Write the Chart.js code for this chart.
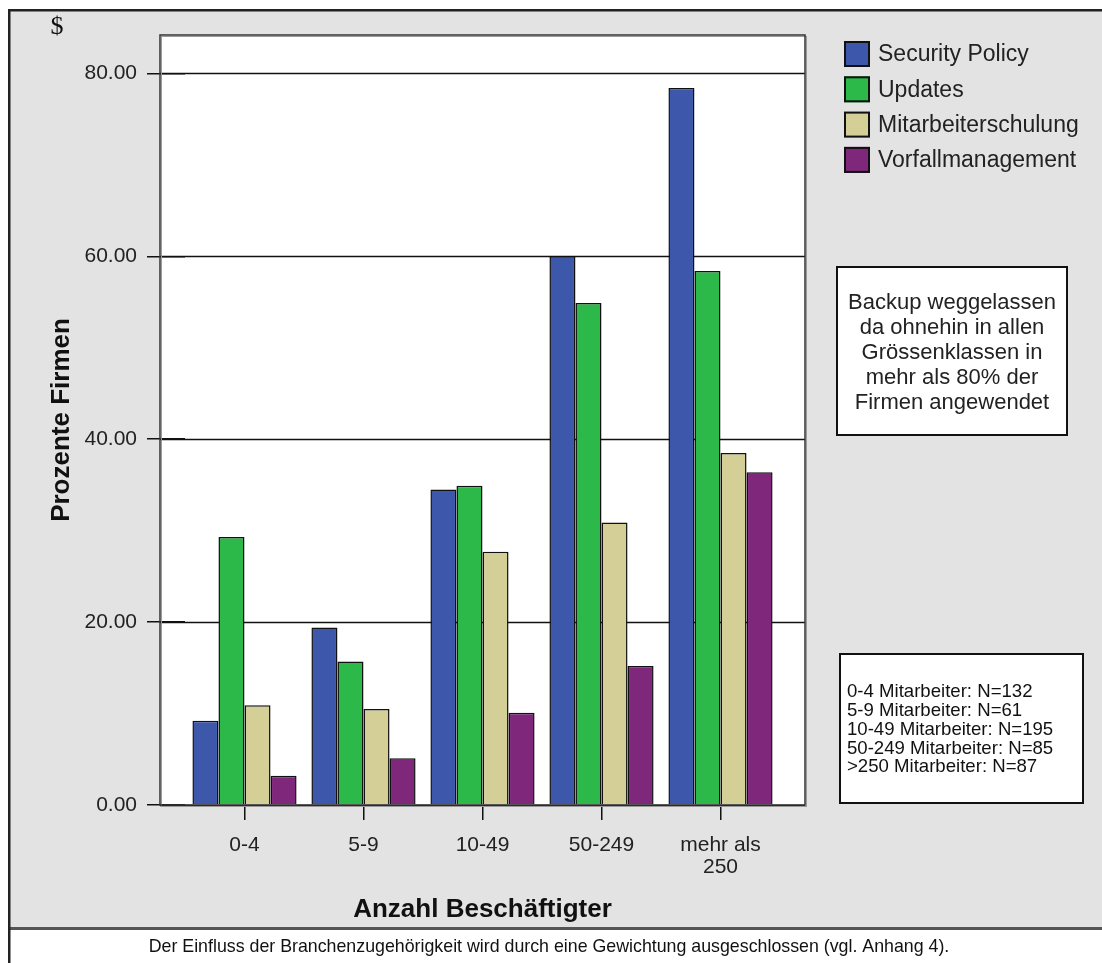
<!DOCTYPE html>
<html>
<head>
<meta charset="utf-8">
<script src="https://cdn.jsdelivr.net/npm/chart.js@4"></script>
<style>
  html, body { margin: 0; padding: 0; background: #fff; }
  #wrap { width: 1102px; height: 963px; position: relative; }
</style>
</head>
<body>
<div id="wrap"><canvas id="c" width="1102" height="963"></canvas></div>
<script>
// Size classes (number of employees)
const categories = ['0-4', '5-9', '10-49', '50-249', ['mehr als', '250']];

// Share of firms (%) per measure and size class
const securityPolicy      = [9.2, 19.4, 34.5, 60.0, 78.4];
const updates             = [29.3, 15.7, 34.9, 54.9, 58.4];
const mitarbeiterschulung = [10.9, 10.5, 27.7, 30.9, 38.5];
const vorfallmanagement   = [3.2, 5.1, 10.1, 15.2, 36.4];

const seriesNames  = ['Security Policy', 'Updates', 'Mitarbeiterschulung', 'Vorfallmanagement'];
const seriesColors = ['#3d57ab', '#2db84a', '#d4cf96', '#7f277b'];

const yTicks = [0, 20, 40, 60, 80];
const yMax = 84.2;

const noteLines = [
  'Backup weggelassen',
  'da ohnehin in allen',
  'Grössenklassen in',
  'mehr als 80% der',
  'Firmen angewendet'
];
const sampleLines = [
  '0-4 Mitarbeiter: N=132',
  '5-9 Mitarbeiter: N=61',
  '10-49 Mitarbeiter: N=195',
  '50-249 Mitarbeiter: N=85',
  '>250 Mitarbeiter: N=87'
];
const footnote = 'Der Einfluss der Branchenzugehörigkeit wird durch eine Gewichtung ausgeschlossen (vgl. Anhang 4).';
const unitMark = '$';

const FONT = "'Liberation Sans', Arial, Helvetica, sans-serif";
const PANEL = '#e3e3e3';

// plot frame extends a bit beyond the category band on both sides
const FRAME_PAD = 25;

const framePlugin = {
  id: 'frame',
  beforeDraw(chart) {
    const ctx = chart.ctx;
    const { left, right, top, bottom } = chart.chartArea;
    ctx.save();
    ctx.fillStyle = '#ffffff';
    ctx.fillRect(0, 0, chart.width, chart.height);
    // grey panel
    ctx.fillStyle = PANEL;
    ctx.fillRect(9, 10, chart.width - 9, 918);
    // footer separator
    ctx.fillStyle = '#555';
    ctx.fillRect(9, 927, chart.width - 9, 3);
    // outer frame (top and left)
    ctx.fillStyle = '#222';
    ctx.fillRect(8, 9, chart.width - 8, 2.5);
    ctx.fillRect(8, 9, 2.5, chart.height - 9);
    // white plot box
    ctx.fillStyle = '#ffffff';
    ctx.fillRect(left - FRAME_PAD, top, right - left + 2 * FRAME_PAD, bottom - top);
    ctx.restore();
  },
  beforeDatasetsDraw(chart) {
    const ctx = chart.ctx;
    const { left, right } = chart.chartArea;
    const y = chart.scales.y;
    ctx.save();
    ctx.strokeStyle = '#111';
    ctx.lineWidth = 1.5;
    yTicks.forEach(v => {
      const py = Math.round(y.getPixelForValue(v)) + 0.5;
      ctx.beginPath();
      ctx.moveTo(left - FRAME_PAD, py);
      ctx.lineTo(right + FRAME_PAD, py);
      ctx.stroke();
    });
    ctx.restore();
  },
  afterDatasetsDraw(chart) {
    const ctx = chart.ctx;
    const { left, right, top, bottom } = chart.chartArea;
    ctx.save();
    ctx.strokeStyle = '#9a9a9a';
    ctx.lineWidth = 1;
    ctx.strokeRect(left - FRAME_PAD + 1.5, top + 1.5, right - left + 2 * FRAME_PAD, bottom - top);
    ctx.strokeStyle = '#333';
    ctx.lineWidth = 1.5;
    ctx.strokeRect(left - FRAME_PAD, top, right - left + 2 * FRAME_PAD, bottom - top);
    ctx.restore();
  },
  afterDraw(chart) {
    const ctx = chart.ctx;
    ctx.save();

    // unit mark in the top-left corner
    ctx.fillStyle = '#111';
    ctx.font = "26px 'Liberation Serif', 'Times New Roman', serif";
    ctx.textAlign = 'center';
    ctx.textBaseline = 'middle';
    ctx.fillText(unitMark, 57, 27);

    // legend
    const lx = 844, ly = 41, sw = 26, pitch = 35.3;
    chart.data.datasets.forEach((ds, i) => {
      const y0 = ly + i * pitch;
      ctx.fillStyle = ds.backgroundColor;
      ctx.fillRect(lx, y0, sw, sw);
      ctx.strokeStyle = '#111';
      ctx.lineWidth = 2;
      ctx.strokeRect(lx + 1, y0 + 1, sw - 2, sw - 2);
      ctx.fillStyle = '#222';
      ctx.font = '23px ' + FONT;
      ctx.textAlign = 'left';
      ctx.textBaseline = 'middle';
      ctx.fillText(ds.label, 878, y0 + sw / 2 + 1);
    });

    // note box
    ctx.fillStyle = '#fff';
    ctx.fillRect(836, 266, 232, 170);
    ctx.strokeStyle = '#111';
    ctx.lineWidth = 2;
    ctx.strokeRect(837, 267, 230, 168);
    ctx.fillStyle = '#222';
    ctx.font = '22px ' + FONT;
    ctx.textAlign = 'center';
    ctx.textBaseline = 'middle';
    noteLines.forEach((t, i) => ctx.fillText(t, 952, 303 + i * 25));

    // sample size box
    ctx.fillStyle = '#fff';
    ctx.fillRect(839, 653, 245, 151);
    ctx.strokeStyle = '#111';
    ctx.lineWidth = 2;
    ctx.strokeRect(840, 654, 243, 149);
    ctx.fillStyle = '#111';
    ctx.font = '18.6px ' + FONT;
    ctx.textAlign = 'left';
    ctx.textBaseline = 'middle';
    sampleLines.forEach((t, i) => ctx.fillText(t, 847, 692 + i * 18.8));

    // footnote
    ctx.fillStyle = '#111';
    ctx.font = '17.8px ' + FONT;
    ctx.textAlign = 'center';
    ctx.textBaseline = 'middle';
    ctx.fillText(footnote, 549, 947);

    ctx.restore();
  }
};

const ds = (label, data, color) => ({
  label,
  data,
  backgroundColor: color,
  borderColor: '#111',
  borderWidth: 1.5,
  barPercentage: 1.0,
  categoryPercentage: 0.875
});

new Chart(document.getElementById('c'), {
  type: 'bar',
  data: {
    labels: categories,
    datasets: [
      ds(seriesNames[0], securityPolicy, seriesColors[0]),
      ds(seriesNames[1], updates, seriesColors[1]),
      ds(seriesNames[2], mitarbeiterschulung, seriesColors[2]),
      ds(seriesNames[3], vorfallmanagement, seriesColors[3])
    ]
  },
  options: {
    responsive: false,
    animation: false,
    devicePixelRatio: 1,
    layout: { padding: { left: 10, right: 322, top: 35, bottom: 34.6 } },
    plugins: {
      legend: { display: false },
      tooltip: { enabled: false }
    },
    scales: {
      x: {
        offset: true,
        grid: { display: true, drawOnChartArea: false, offset: false, tickLength: 15, color: '#111', lineWidth: 1.5 },
        border: { display: false },
        ticks: {
          font: { family: FONT, size: 21, lineHeight: 1.05 },
          color: '#222',
          padding: 14,
          maxRotation: 0,
          autoSkip: false
        },
        title: {
          display: true,
          text: 'Anzahl Beschäftigter',
          font: { family: FONT, size: 26, weight: 'bold', lineHeight: 1.2 },
          color: '#111',
          padding: { top: 0, bottom: 3 }
        },
        afterFit(scale) { scale.height = 123.4; }
      },
      y: {
        min: 0,
        max: yMax,
        afterBuildTicks(scale) { scale.ticks = yTicks.map(v => ({ value: v })); },
        grid: { drawOnChartArea: false, tickLength: 38, color: '#111', lineWidth: 1.5 },
        border: { display: false },
        ticks: {
          font: { family: FONT, size: 21 },
          color: '#222',
          padding: 10,
          callback: v => Number(v).toFixed(2)
        },
        title: {
          display: true,
          text: 'Prozente Firmen',
          font: { family: FONT, size: 26, weight: 'bold', lineHeight: 1.2 },
          color: '#111',
          padding: { top: 36, bottom: 0 }
        },
        afterFit(scale) { scale.width = 175; }
      }
    }
  },
  plugins: [framePlugin]
});
</script>
</body>
</html>
